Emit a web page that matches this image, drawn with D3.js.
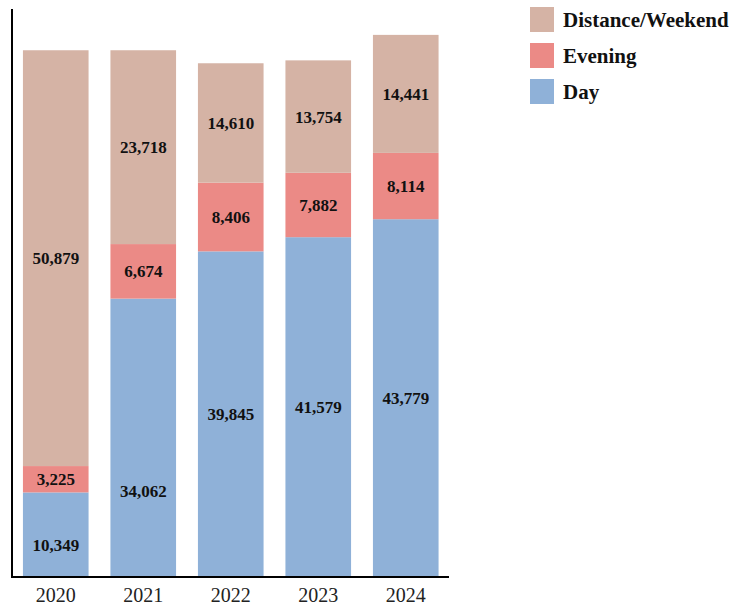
<!DOCTYPE html>
<html>
<head>
<meta charset="utf-8">
<script src="https://cdn.jsdelivr.net/npm/d3@7"></script>
<style>
  body { margin: 0; background: #fff; }
  text { font-family: "Liberation Serif", "Times New Roman", serif; }
</style>
</head>
<body>
<div id="chart"></div>
<script>
// data
var years = ["2020", "2021", "2022", "2023", "2024"];
var day = [10349, 34062, 39845, 41579, 43779];
var evening = [3225, 6674, 8406, 7882, 8114];
var distance = [50879, 23718, 14610, 13754, 14441];
var seriesNames = ["Day", "Evening", "Distance/Weekend"];
var legendOrder = ["Distance/Weekend", "Evening", "Day"];

var svgWidth = 752;
var svgHeight = 605;

var colors = {
  "Day": "#8fb1d8",
  "Evening": "#eb8a86",
  "Distance/Weekend": "#d5b3a5"
};

var svg = d3.select("#chart").append("svg")
    .attr("width", svgWidth)
    .attr("height", svgHeight);

// build rows for stacking
var rows = years.map(function(y, i) {
  return { year: y, "Day": day[i], "Evening": evening[i], "Distance/Weekend": distance[i] };
});

var stacked = d3.stack().keys(seriesNames)(rows);

var x = d3.scaleBand()
    .domain(years)
    .range([12, 449.5])
    .paddingInner(0.25)
    .paddingOuter(0.125);

var y = d3.scaleLinear()
    .domain([0, 69500])
    .range([577, 9]);

// bars
var layers = svg.selectAll("g.layer")
  .data(stacked)
  .enter()
  .append("g")
  .attr("class", "layer")
  .attr("fill", d => colors[d.key]);

layers.selectAll("rect")
  .data(d => d)
  .enter()
  .append("rect")
  .attr("x", d => x(d.data.year))
  .attr("y", d => y(d[1]))
  .attr("width", x.bandwidth())
  .attr("height", d => y(d[0]) - y(d[1]));

// value labels, a couple of the day labels sit low in the original
var dayLabelShift = { "2020": 10, "2021": 53 };

layers.each(function(layer) {
  d3.select(this).selectAll("text")
    .data(layer)
    .enter()
    .append("text")
    .attr("x", d => x(d.data.year) + x.bandwidth() / 2)
    .attr("y", function(d) {
      var mid = (y(d[0]) + y(d[1])) / 2;
      if (layer.key === "Day" && dayLabelShift[d.data.year]) mid += dayLabelShift[d.data.year];
      return mid;
    })
    .attr("dy", "0.35em")
    .attr("text-anchor", "middle")
    .style("font-size", "17px")
    .style("font-weight", "bold")
    .style("fill", "#111")
    .text(d => d3.format(",")(d.data[layer.key]));
});

// axes
var xAxis = svg.append("g")
  .attr("transform", "translate(0,577)")
  .call(d3.axisBottom(x).tickSize(0).tickPadding(11).tickSizeOuter(0));
xAxis.select(".domain").attr("d", "M12,0H449").attr("stroke", "#000").attr("stroke-width", 2);
xAxis.selectAll("text")
  .style("font-size", "20px")
  .style("font-family", "'Liberation Serif', serif")
  .attr("fill", "#222");

svg.append("line")
  .attr("x1", 12).attr("x2", 12)
  .attr("y1", 9).attr("y2", 578)
  .attr("stroke", "#000")
  .attr("stroke-width", 2);

// legend
var legend = svg.selectAll("g.legend")
  .data(legendOrder)
  .enter()
  .append("g")
  .attr("class", "legend")
  .attr("transform", (d, i) => `translate(530, ${7 + i * 36})`);

legend.append("rect")
  .attr("width", 24)
  .attr("height", 25)
  .attr("fill", d => colors[d]);

legend.append("text")
  .attr("x", 33)
  .attr("y", 20)
  .style("font-size", "21px")
  .style("font-weight", "bold")
  .style("fill", "#111")
  .text(d => d);
</script>
</body>
</html>
